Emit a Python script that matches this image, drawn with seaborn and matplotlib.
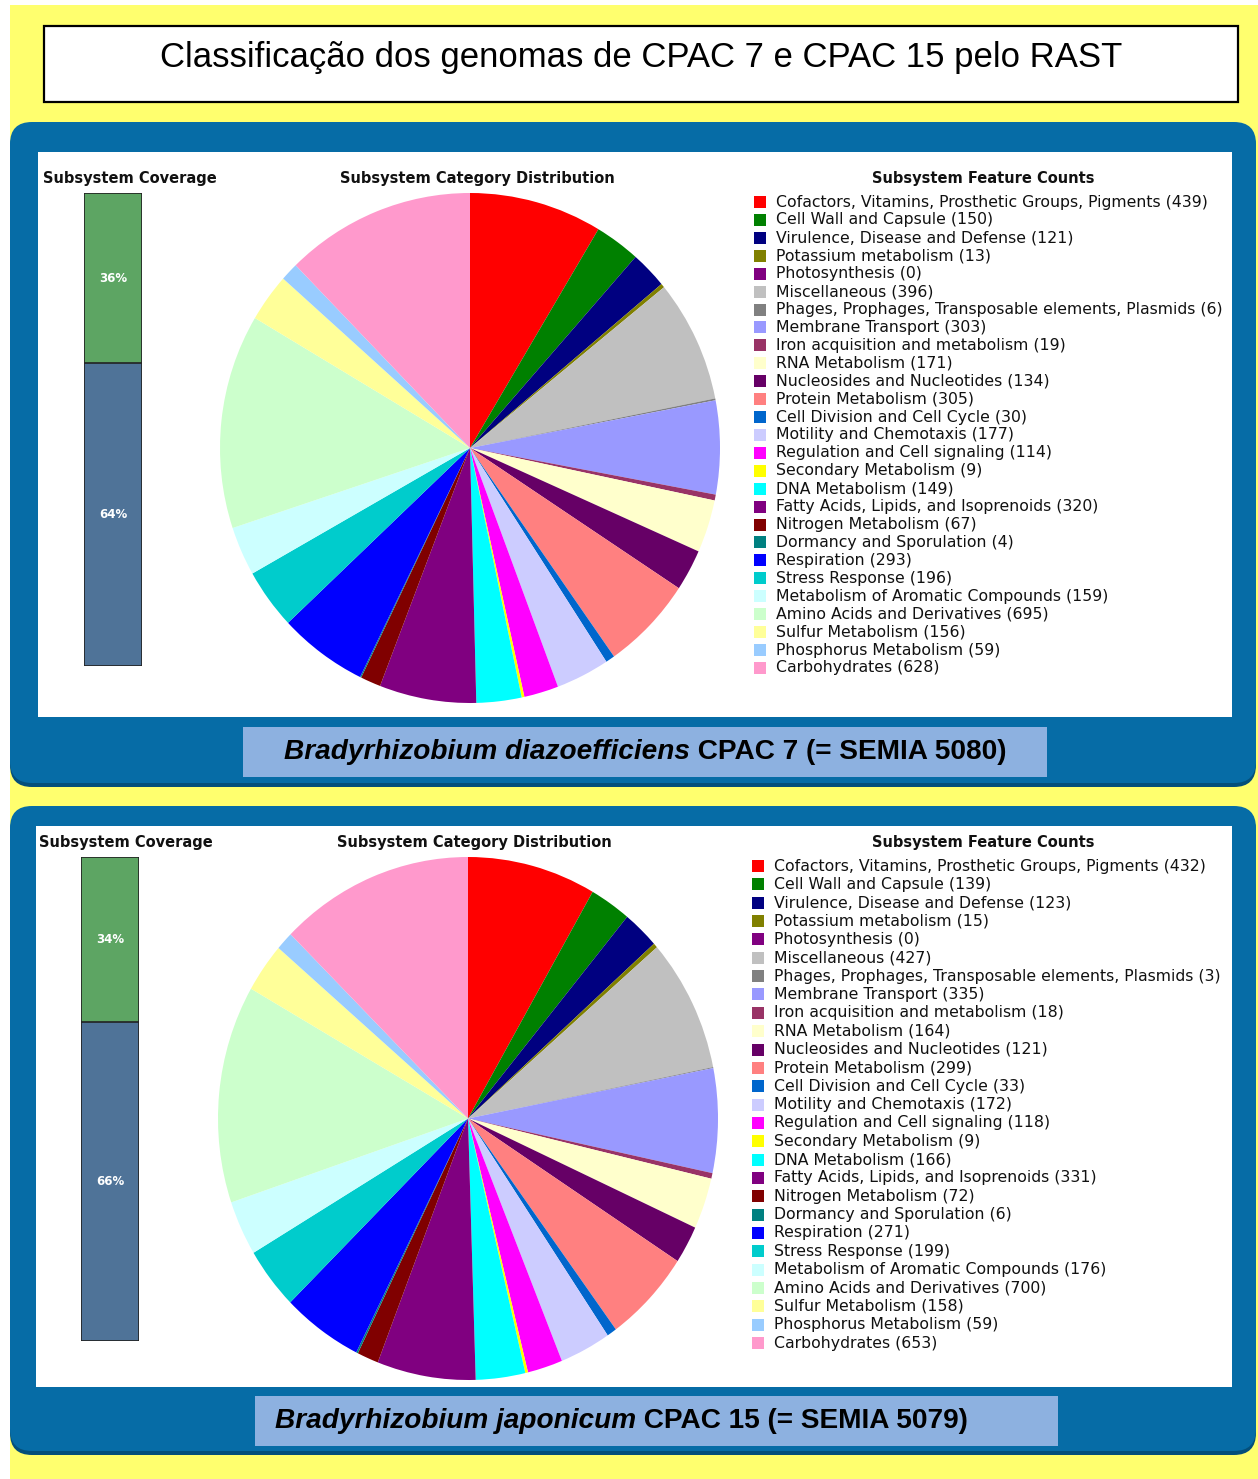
import numpy as np
import pandas as pd
import seaborn as sns
import matplotlib
matplotlib.use("Agg")
import matplotlib.pyplot as plt
from matplotlib.patches import Rectangle, FancyBboxPatch

# ---------------- data ----------------
categories = [
    "Cofactors, Vitamins, Prosthetic Groups, Pigments",
    "Cell Wall and Capsule",
    "Virulence, Disease and Defense",
    "Potassium metabolism",
    "Photosynthesis",
    "Miscellaneous",
    "Phages, Prophages, Transposable elements, Plasmids",
    "Membrane Transport",
    "Iron acquisition and metabolism",
    "RNA Metabolism",
    "Nucleosides and Nucleotides",
    "Protein Metabolism",
    "Cell Division and Cell Cycle",
    "Motility and Chemotaxis",
    "Regulation and Cell signaling",
    "Secondary Metabolism",
    "DNA Metabolism",
    "Fatty Acids, Lipids, and Isoprenoids",
    "Nitrogen Metabolism",
    "Dormancy and Sporulation",
    "Respiration",
    "Stress Response",
    "Metabolism of Aromatic Compounds",
    "Amino Acids and Derivatives",
    "Sulfur Metabolism",
    "Phosphorus Metabolism",
    "Carbohydrates",
]
counts_cpac7 = [439, 150, 121, 13, 0, 396, 6, 303, 19, 171, 134, 305, 30, 177,
                114, 9, 149, 320, 67, 4, 293, 196, 159, 695, 156, 59, 628]
counts_cpac15 = [432, 139, 123, 15, 0, 427, 3, 335, 18, 164, 121, 299, 33, 172,
                 118, 9, 166, 331, 72, 6, 271, 199, 176, 700, 158, 59, 653]
colors = ["#FF0000", "#008000", "#000080", "#808000", "#800080", "#C0C0C0",
          "#808080", "#9999FF", "#993366", "#FFFFCC", "#660066", "#FF8080",
          "#0066CC", "#CCCCFF", "#FF00FF", "#FFFF00", "#00FFFF", "#800080",
          "#800000", "#008080", "#0000FF", "#00CCCC", "#CCFFFF", "#CCFFCC",
          "#FFFF99", "#99CCFF", "#FF99CC"]
coverage_labels = ["in subsystem", "not in subsystem"]
coverage_cpac7 = [36, 64]
coverage_cpac15 = [34, 66]
main_title = "Classificação dos genomas de CPAC 7 e CPAC 15 pelo RAST"
species = ["Bradyrhizobium diazoefficiens", "Bradyrhizobium japonicum"]
strains = ["CPAC 7 (= SEMIA 5080)", "CPAC 15 (= SEMIA 5079)"]

# ---------------- figure ----------------
sns.set_theme(style="white")
plt.rcParams['font.family'] = ['DejaVu Sans']
plt.rcParams['text.color'] = 'black'

W, H = 1258, 1479
fig = plt.figure(figsize=(W / 100, H / 100), dpi=100)
fig.patch.set_facecolor("white")
bg = fig.add_axes([0, 0, 1, 1])
bg.set_xlim(0, W)
bg.set_ylim(H, 0)
bg.axis("off")
renderer = fig.canvas.get_renderer()


def px_axes(x0, y0, x1, y1):
    return fig.add_axes([x0 / W, 1 - y1 / H, (x1 - x0) / W, (y1 - y0) / H])


YELLOW = "#FFFF6E"
BLUE = "#066CA6"
SHADOW = "#044F7A"
CAPBOX = "#8DB1E0"

bg.add_patch(Rectangle((10, 5), W - 10, H - 5, facecolor=YELLOW, edgecolor="none"))
bg.add_patch(Rectangle((44, 26), 1194, 76, facecolor="white", edgecolor="black", lw=1.6))
bg.text(641, 57, main_title, ha="center", va="center", fontsize=25,
        family="Liberation Sans", color="black")

panels = [
    dict(panel=(10, 122, 1256, 783), inner=(38, 152, 1232, 717),
         cap=(243, 727, 1047, 777), cap_tx=284, counts=counts_cpac7,
         cov=coverage_cpac7,
         head_y=179, cov_title_x=43, pie_title_x=477, feat_title_x=983,
         bar=(84, 193, 142, 666), pie=(220, 193, 720, 703),
         leg_sq_x=754, leg_tx=776, leg_y0=202, leg_dy=17.92, idx=0),
    dict(panel=(10, 806, 1256, 1451), inner=(36, 826, 1232, 1387),
         cap=(255, 1396, 1058, 1446), cap_tx=275, counts=counts_cpac15,
         cov=coverage_cpac15,
         head_y=842, cov_title_x=39, pie_title_x=474, feat_title_x=983,
         bar=(81, 857, 139, 1341), pie=(218, 857, 718, 1380),
         leg_sq_x=752, leg_tx=774, leg_y0=866, leg_dy=18.35, idx=1),
]

for p in panels:
    x0, y0, x1, y1 = p["panel"]
    bg.add_patch(FancyBboxPatch((x0, y0 + 4), x1 - x0, y1 - y0,
                                boxstyle="round,pad=0,rounding_size=22",
                                facecolor=SHADOW, edgecolor="none"))
    bg.add_patch(FancyBboxPatch((x0, y0), x1 - x0, y1 - y0,
                                boxstyle="round,pad=0,rounding_size=22",
                                facecolor=BLUE, edgecolor="none"))
    ix0, iy0, ix1, iy1 = p["inner"]
    bg.add_patch(Rectangle((ix0, iy0), ix1 - ix0, iy1 - iy0, facecolor="white",
                           edgecolor="none"))
    cx0, cy0, cx1, cy1 = p["cap"]
    bg.add_patch(Rectangle((cx0, cy0), cx1 - cx0, cy1 - cy0, facecolor=CAPBOX,
                           edgecolor="none"))
    # caption: italic species + bold strain
    i = p["idx"]
    cy = (cy0 + cy1) / 2
    t1 = bg.text(p["cap_tx"], cy, species[i], ha="left", va="center",
                 fontsize=20.2, family="Liberation Sans", weight="bold",
                 style="italic", color="black")
    t2 = bg.text(0, cy, " " + strains[i], ha="left", va="center", fontsize=20.2,
                 family="Liberation Sans", weight="bold", color="black")
    w1 = t1.get_window_extent(renderer).width
    t2.set_x(p["cap_tx"] + w1)

    # headings
    hy = p["head_y"]
    bg.text(p["cov_title_x"], hy, "Subsystem Coverage", ha="left", va="center",
            fontsize=10.5, weight="bold", color="#111111")
    bg.text(p["pie_title_x"], hy, "Subsystem Category Distribution", ha="center",
            va="center", fontsize=10.5, weight="bold", color="#111111")
    bg.text(p["feat_title_x"], hy, "Subsystem Feature Counts", ha="center",
            va="center", fontsize=10.5, weight="bold", color="#111111")

    # coverage bar (seaborn)
    bx0, by0, bx1, by1 = p["bar"]
    axb = px_axes(bx0, by0, bx1, by1)
    cov = p["cov"]
    df_tot = pd.DataFrame({"x": ["cov"], "y": [cov[0] + cov[1]]})
    df_out = pd.DataFrame({"x": ["cov"], "y": [cov[1]]})
    sns.barplot(data=df_tot, x="x", y="y", ax=axb, color="#5DA563", width=1.0,
                saturation=1, edgecolor="#222222", linewidth=1.2)
    sns.barplot(data=df_out, x="x", y="y", ax=axb, color="#4F7398", width=1.0,
                saturation=1, edgecolor="#222222", linewidth=1.2)
    axb.set_xlim(-0.5, 0.5)
    axb.set_ylim(0, cov[0] + cov[1])
    axb.axis("off")
    axb.text(0, cov[1] + cov[0] / 2, f"{cov[0]}%", ha="center", va="center",
             color="white", fontsize=8.5, weight="bold")
    axb.text(0, cov[1] / 2, f"{cov[1]}%", ha="center", va="center",
             color="white", fontsize=8.5, weight="bold")

    # pie
    px0, py0, px1, py1 = p["pie"]
    axp = px_axes(px0, py0, px1, py1)
    axp.pie(p["counts"], colors=colors, startangle=90, counterclock=False,
            wedgeprops=dict(linewidth=0, edgecolor="none"), radius=1)
    axp.set_aspect("auto")
    axp.set_xlim(-1, 1)
    axp.set_ylim(-1, 1)
    axp.axis("off")

    # legend
    for k, (cat, n) in enumerate(zip(categories, p["counts"])):
        yy = p["leg_y0"] + k * p["leg_dy"]
        bg.add_patch(Rectangle((p["leg_sq_x"], yy - 6), 12, 12,
                               facecolor=colors[k], edgecolor="none"))
        bg.text(p["leg_tx"], yy, f"{cat} ({n})", ha="left", va="center",
                fontsize=11.3, color="#111111")

fig.savefig("out.png", dpi=100, facecolor="white")
